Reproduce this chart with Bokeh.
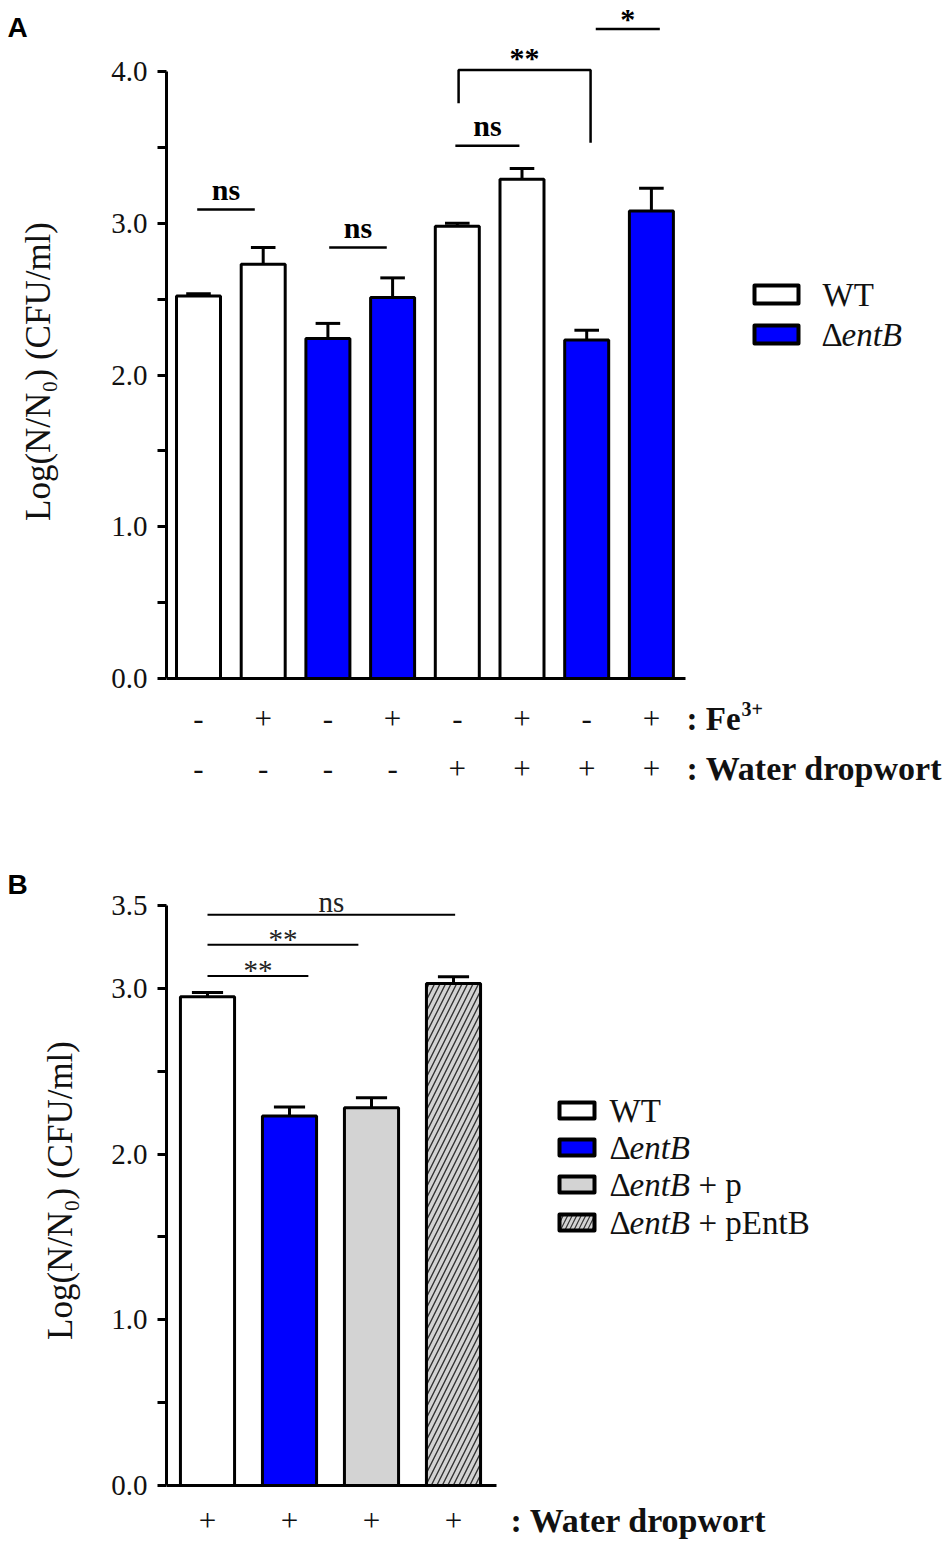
import math
from bokeh.plotting import figure
from bokeh.layouts import column, row
from bokeh.models import Range1d, FixedTicker, NumeralTickFormatter, ColumnDataSource
from bokeh.core.properties import value
from bokeh.embed import file_html
from bokeh.resources import INLINE

SERIF = "Liberation Serif"
SANS = "Liberation Sans"
BLUE = "#0000FF"
GRAY = "#D3D3D3"

# ---------------- Panel A data ----------------
a_x = [1, 2, 3, 4, 5, 6, 7, 8]
a_strain = ["WT", "WT", "entB", "entB", "WT", "WT", "entB", "entB"]
a_mean = [2.52, 2.73, 2.24, 2.51, 2.98, 3.29, 2.23, 3.08]
a_sem = [0.015, 0.11, 0.10, 0.13, 0.02, 0.07, 0.065, 0.15]
a_fe = ["-", "+", "-", "+", "-", "+", "-", "+"]
a_water = ["-", "-", "-", "-", "+", "+", "+", "+"]
a_yticks = [0, 1, 2, 3, 4]
a_yminor = [0.5, 1.5, 2.5, 3.5]
a_sig_x0 = [0.98, 3.02, 4.97, 7.14]
a_sig_x1 = [1.87, 3.91, 5.96, 8.13]
a_sig_y = [3.09, 2.84, 3.51, 4.28]
a_sig_text = ["ns", "ns", "ns", "*"]
a_bracket_x = [5.02, 7.06]
a_bracket_top = 4.01
a_bracket_feet = [3.79, 3.53]
a_bracket_text = "**"

# ---------------- Panel B data ----------------
b_x = [1, 2, 3, 4]
b_group = ["WT", "entB", "entB + p", "entB + pEntB"]
b_mean = [2.95, 2.23, 2.28, 3.03]
b_sem = [0.025, 0.055, 0.06, 0.04]
b_water = ["+", "+", "+", "+"]
b_yticks = [0, 1, 2, 3, 3.5]
b_yminor = [0.5, 1.5, 2.5]
b_sig_x0 = [1.0, 1.0, 1.0]
b_sig_x1 = [2.23, 2.84, 4.02]
b_sig_y = [3.075, 3.263, 3.444]
b_sig_text = ["**", "**", "ns"]

y_title = "Log(N/N\u2080) (CFU/ml)"

strain_color = {"WT": "white", "entB": BLUE, "entB + p": GRAY, "entB + pEntB": GRAY}
strain_hatch = {"WT": " ", "entB": " ", "entB + p": " ", "entB + pEntB": "/"}

# ---------------- layout constants (page pixels) ----------------
W = 945
LW = 84                      # width of the strip holding panel letter + y title
FRAME_LEFT_PAGE = 166
LEFT = FRAME_LEFT_PAGE - LW
A_H = 808
B_H = 735

A_XPX, A_X1 = 64.7, 198.0     # px per unit, page px of x=1
A_YPX, A_Y0 = 151.75, 678.0   # px per unit, page px of y=0
A_TOP = 0


def ax_(px):
    return 1 + (px - A_X1) / A_XPX


def ay_(py):
    return (A_Y0 - py) / A_YPX


B_XPX, B_X1 = 82.0, 207.0
B_YPX, B_Y0 = 165.7, 1485.0
B_TOP = A_TOP + A_H


def bx_(px):
    return 1 + (px - B_X1) / B_XPX


def by_(py):
    return (B_Y0 - py) / B_YPX


def style_yaxis(p, bounds, ticks, minor):
    ax = p.yaxis[0]
    ax.bounds = bounds
    ax.ticker = FixedTicker(ticks=ticks, minor_ticks=minor)
    ax.formatter = NumeralTickFormatter(format="0.0")
    ax.axis_line_width = 3
    ax.axis_line_color = "black"
    ax.major_tick_line_width = 3
    ax.minor_tick_line_width = 3
    ax.major_tick_line_color = "black"
    ax.minor_tick_line_color = "black"
    ax.major_tick_in = 0
    ax.major_tick_out = 9
    ax.minor_tick_in = 0
    ax.minor_tick_out = 9
    ax.major_label_text_font = SERIF
    ax.major_label_text_font_size = "29px"
    ax.major_label_text_color = "#111111"
    ax.major_label_standoff = 10


def clean(p):
    p.grid.visible = False
    p.outline_line_color = None
    p.background_fill_color = "white"
    p.border_fill_color = "white"
    return p


def base_fig(h, xr, yr):
    p = figure(width=W - LW, height=h, x_axis_location=None, title=None,
               toolbar_location=None, output_backend="svg",
               min_border_left=LEFT, min_border_right=0, min_border_top=0,
               min_border_bottom=0, x_range=xr, y_range=yr)
    return clean(p)


def strip_fig(h, letter, letter_xy, title_xy):
    s = figure(width=LW, height=h, x_axis_location=None, y_axis_location=None, title=None,
               toolbar_location=None, output_backend="svg", min_border=0,
               x_range=Range1d(0, LW), y_range=Range1d(h, 0))
    clean(s)
    s.text(x=[letter_xy[0]], y=[letter_xy[1]], text=[letter], text_font=value(SANS),
           text_font_style="bold", text_font_size=value("28px"), text_align="center",
           text_baseline="middle", text_color="black")
    s.text(x=[title_xy[0]], y=[title_xy[1]], text=[y_title], angle=math.pi / 2,
           text_font=value(SERIF), text_font_size=value("35px"), text_align="center",
           text_baseline="middle", text_color="#111111")
    return s


# ================= Panel A =================
pa = base_fig(A_H,
              Range1d(ax_(FRAME_LEFT_PAGE), ax_(W)),
              Range1d(ay_(A_TOP + A_H), ay_(A_TOP)))
style_yaxis(pa, (0, 4), a_yticks, a_yminor)

src_a = ColumnDataSource(dict(
    x=a_x, top=a_mean,
    color=[strain_color[s] for s in a_strain],
    etop=[m + e for m, e in zip(a_mean, a_sem)],
    cl=[x - 0.19 for x in a_x], cr=[x + 0.19 for x in a_x],
))
pa.segment(x0="x", y0="top", x1="x", y1="etop", source=src_a, line_width=3, line_color="black")
pa.segment(x0="cl", y0="etop", x1="cr", y1="etop", source=src_a, line_width=3, line_color="black")
pa.vbar(x="x", top="top", bottom=0, width=0.68, source=src_a, fill_color="color",
        line_color="black", line_width=3)
pa.segment(x0=[ax_(FRAME_LEFT_PAGE)], y0=[0], x1=[ax_(685)], y1=[0], line_width=3, line_color="black")

# condition rows
pa.text(x=a_x, y=[ay_(718)] * 8, text=a_fe, text_font=value(SERIF), text_font_size=value("31px"),
        text_align="center", text_baseline="middle", text_color="#111111")
pa.text(x=a_x, y=[ay_(768)] * 8, text=a_water, text_font=value(SERIF), text_font_size=value("31px"),
        text_align="center", text_baseline="middle", text_color="#111111")
pa.text(x=[ax_(686)], y=[ay_(718)], text=[": Fe"], text_font=value(SERIF), text_font_size=value("33px"),
        text_font_style="bold", text_align="left", text_baseline="middle", text_color="#111111")
pa.text(x=[ax_(686)], y=[ay_(718)], text=["3+"], text_font=value(SERIF), text_font_size=value("20px"),
        text_font_style="bold", text_align="left", text_baseline="middle", text_color="#111111",
        x_offset=55, y_offset=-10)
pa.text(x=[ax_(686)], y=[ay_(768)], text=[": Water dropwort"], text_font=value(SERIF),
        text_font_size=value("34px"), text_font_style="bold", text_align="left",
        text_baseline="middle", text_color="#111111")

# significance
pa.segment(x0=a_sig_x0, y0=a_sig_y, x1=a_sig_x1, y1=a_sig_y, line_width=2.5, line_color="black")
ns_idx = [i for i, t in enumerate(a_sig_text) if t == "ns"]
st_idx = [i for i, t in enumerate(a_sig_text) if t != "ns"]
pa.text(x=[(a_sig_x0[i] + a_sig_x1[i]) / 2 for i in ns_idx], y=[a_sig_y[i] for i in ns_idx],
        text=[a_sig_text[i] for i in ns_idx], text_font=value(SERIF), text_font_size=value("30px"),
        text_font_style="bold", text_align="center", text_baseline="middle", y_offset=-20)
pa.text(x=[(a_sig_x0[i] + a_sig_x1[i]) / 2 for i in st_idx], y=[a_sig_y[i] for i in st_idx],
        text=[a_sig_text[i] for i in st_idx], text_font=value(SERIF), text_font_size=value("30px"),
        text_font_style="bold", text_align="center", text_baseline="middle", y_offset=-11)
pa.multi_line(xs=[[a_bracket_x[0], a_bracket_x[0], a_bracket_x[1], a_bracket_x[1]]],
              ys=[[a_bracket_feet[0], a_bracket_top, a_bracket_top, a_bracket_feet[1]]],
              line_width=2.5, line_color="black")
pa.text(x=[sum(a_bracket_x) / 2], y=[a_bracket_top], text=[a_bracket_text], text_font=value(SERIF),
        text_font_size=value("30px"), text_font_style="bold", text_align="center",
        text_baseline="middle", y_offset=-12)

# legend A
leg_a_y = [ay_(294), ay_(334)]
pa.rect(x=[ax_(776)] * 2, y=leg_a_y, width=44, height=18, width_units="screen", height_units="screen",
        fill_color=["white", BLUE], line_color="black", line_width=4, line_join="round")
pa.text(x=[ax_(822)], y=[leg_a_y[0]], text=["WT"], text_font=value(SERIF), text_font_size=value("33px"),
        text_align="left", text_baseline="middle", text_color="#111111")
pa.text(x=[ax_(821)], y=[leg_a_y[1]], text=["\u0394"], text_font=value(SERIF), text_font_size=value("33px"),
        text_align="left", text_baseline="middle", text_color="#111111")
pa.text(x=[ax_(821)], y=[leg_a_y[1]], text=["entB"], text_font=value(SERIF), text_font_size=value("33px"),
        text_font_style="italic", text_align="left", text_baseline="middle", text_color="#111111",
        x_offset=20)

sa = strip_fig(A_H, "A", (17, 27 - A_TOP), (38, 371 - A_TOP))

# ================= Panel B =================
pb = base_fig(B_H,
              Range1d(bx_(FRAME_LEFT_PAGE), bx_(W)),
              Range1d(by_(B_TOP + B_H), by_(B_TOP)))
style_yaxis(pb, (0, 3.5), b_yticks, b_yminor)

src_b = ColumnDataSource(dict(
    x=b_x, top=b_mean,
    color=[strain_color[g] for g in b_group],
    hatch=[strain_hatch[g] for g in b_group],
    etop=[m + e for m, e in zip(b_mean, b_sem)],
    cl=[x - 0.19 for x in b_x], cr=[x + 0.19 for x in b_x],
))
pb.segment(x0="x", y0="top", x1="x", y1="etop", source=src_b, line_width=3, line_color="black")
pb.segment(x0="cl", y0="etop", x1="cr", y1="etop", source=src_b, line_width=3, line_color="black")
pb.vbar(x="x", top="top", bottom=0, width=0.66, source=src_b, fill_color="color",
        hatch_pattern="hatch", hatch_color="#333333", hatch_scale=11, hatch_weight=1.4,
        line_color="black", line_width=3)
pb.segment(x0=[bx_(FRAME_LEFT_PAGE)], y0=[0], x1=[bx_(496)], y1=[0], line_width=3, line_color="black")

pb.text(x=b_x, y=[by_(1520)] * 4, text=b_water, text_font=value(SERIF), text_font_size=value("31px"),
        text_align="center", text_baseline="middle", text_color="#111111")
pb.text(x=[bx_(510)], y=[by_(1520)], text=[": Water dropwort"], text_font=value(SERIF),
        text_font_size=value("34px"), text_font_style="bold", text_align="left",
        text_baseline="middle", text_color="#111111")

pb.segment(x0=b_sig_x0, y0=b_sig_y, x1=b_sig_x1, y1=b_sig_y, line_width=2, line_color="black")
for t, off in (("ns", -13), ("**", -6)):
    idx = [i for i, s in enumerate(b_sig_text) if s == t]
    pb.text(x=[(b_sig_x0[i] + b_sig_x1[i]) / 2 for i in idx], y=[b_sig_y[i] for i in idx],
            text=[b_sig_text[i] for i in idx], text_font=value(SERIF), text_font_size=value("29px"),
            text_align="center", text_baseline="middle", y_offset=off, text_color="#222222")

# legend B
leg_b_y = [by_(1110), by_(1147), by_(1184), by_(1222)]
pb.rect(x=[bx_(576.5)] * 4, y=leg_b_y, width=35, height=16, width_units="screen", height_units="screen",
        fill_color=[strain_color[g] for g in b_group], hatch_pattern=[strain_hatch[g] for g in b_group],
        hatch_color="#333333", hatch_scale=9, hatch_weight=1.2,
        line_color="black", line_width=4, line_join="round")
lx = bx_(609)
pb.text(x=[lx], y=[leg_b_y[0]], text=["WT"], text_font=value(SERIF), text_font_size=value("33px"),
        text_align="left", text_baseline="middle", text_color="#111111")
pb.text(x=[lx] * 3, y=leg_b_y[1:], text=["\u0394"] * 3, text_font=value(SERIF),
        text_font_size=value("33px"), text_align="left", text_baseline="middle", text_color="#111111")
pb.text(x=[lx] * 3, y=leg_b_y[1:], text=["entB"] * 3, text_font=value(SERIF),
        text_font_size=value("33px"), text_font_style="italic", text_align="left",
        text_baseline="middle", text_color="#111111", x_offset=20)
pb.text(x=[lx] * 2, y=leg_b_y[2:], text=["+ p", "+ pEntB"], text_font=value(SERIF),
        text_font_size=value("33px"), text_align="left", text_baseline="middle",
        text_color="#111111", x_offset=89)

sb = strip_fig(B_H, "B", (17, 884 - B_TOP), (60, 1190 - B_TOP))

layout = column(row(sa, pa, spacing=0), row(sb, pb, spacing=0), spacing=0)
open("out.html", "w").write(file_html(layout, INLINE))
